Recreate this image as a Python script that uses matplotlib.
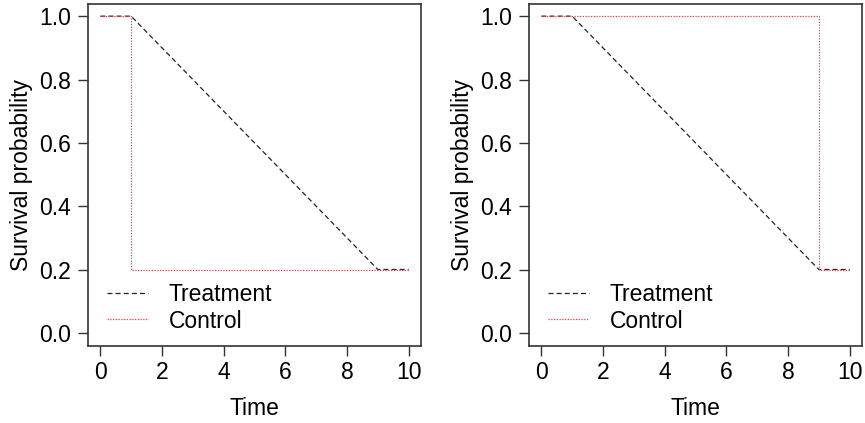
#!/usr/bin/env python3
"""Survival curves: treatment vs control, two scenarios side by side."""

import matplotlib.pyplot as plt

plt.rcParams["font.family"] = ["Liberation Sans", "DejaVu Sans"]

# treatment curve is the same in both panels
treat_time = [0, 1, 9, 10]
treat_surv = [1.0, 1.0, 0.2, 0.2]

# control: early drop (left) and late drop (right)
ctrl_left_time = [0, 1, 1, 10]
ctrl_left_surv = [1.0, 1.0, 0.2, 0.2]
ctrl_right_time = [0, 9, 9, 10]
ctrl_right_surv = [1.0, 1.0, 0.2, 0.2]

x_ticks = [0, 2, 4, 6, 8, 10]
y_ticks = [0.0, 0.2, 0.4, 0.6, 0.8, 1.0]

W, H = 865, 423
FS = 16.5
fig = plt.figure(figsize=(W / 100, H / 100), dpi=100)

panels = [
    (88 / W, ctrl_left_time, ctrl_left_surv),
    (529 / W, ctrl_right_time, ctrl_right_surv),
]

for left, ctrl_t, ctrl_s in panels:
    ax = fig.add_axes([left, 77.5 / H, 333 / W, 342 / H])
    ax.plot(treat_time, treat_surv, color="#222222", linestyle=(0, (4, 2.5)),
            linewidth=0.9, label="Treatment")
    ax.plot(ctrl_t, ctrl_s, color="#ff3838", linestyle=(0, (1, 1.2)),
            linewidth=0.9, label="Control")
    ax.set_xlim(-0.4, 10.4)
    ax.set_ylim(-0.04, 1.04)
    ax.set_xticks(x_ticks, [str(t) for t in x_ticks])
    ax.set_yticks(y_ticks, [f"{t:.1f}" for t in y_ticks])
    ax.tick_params(direction="out", length=7, width=1.0, color="#333333",
                   labelsize=FS)
    ax.tick_params(axis="x", pad=4)
    ax.tick_params(axis="y", pad=5)
    for sp in ax.spines.values():
        sp.set_linewidth(1.2)
        sp.set_color("#333333")
    ax.set_xlabel("Time", fontsize=FS)
    ax.set_ylabel("Survival probability", fontsize=FS)
    ax.xaxis.set_label_coords(0.5, -0.15)
    ax.yaxis.set_label_coords(-0.165, 0.5)
    ax.legend(loc="lower left", bbox_to_anchor=(0.057, 0.038), frameon=False,
              fontsize=FS, handlelength=1.79, handletextpad=0.9,
              labelspacing=0.16, borderpad=0, borderaxespad=0)

fig.savefig("out.png", dpi=100)
